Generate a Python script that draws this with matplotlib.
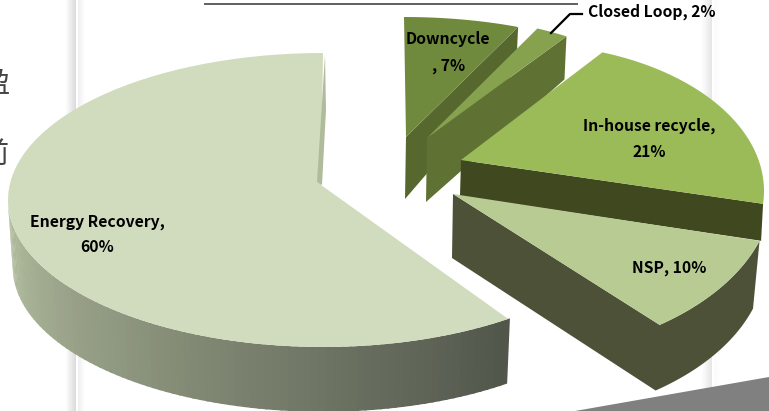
import numpy as np
import matplotlib
matplotlib.use("Agg")
import matplotlib.pyplot as plt
from matplotlib.colors import to_rgb

plt.rcParams['font.family'] = ['Noto Sans CJK KR', 'DejaVu Sans']

# Data, counter-clockwise from 12 o'clock
slices = ["Energy Recovery", "NSP", "In-house recycle", "Closed Loop", "Downcycle"]
shares = [60, 10, 21, 2, 7]

# Look of every slice
face_colors = ["#d1dbbd", "#b8cb92", "#9bbb59", "#86a24e", "#708a3d"]
wall_colors = ["#8f9a80", "#4c5138", "#404820", "#5f7233", "#56682e"]

# Exploded perspective layout per slice (image pixels):
# apex x, apex y, ellipse centre x, y, radius x, y, angle shift, depth at apex, depth at rim
layout = [
    (321, 185, 323, 200, 315, 147, 0, 67, 67),
    (453, 194, 498, 189, 275, 168, 0, 64, 69),
    (461, 160, 522, 191, 242, 147, 13, 36, 37),
    (427, 138, 425, 147, 264, 131, 0, 64, 43),
    (406, 137, 404, 122, 268, 105, 0, 62, 43),
]
draw_order = [4, 3, 2, 0, 1]


def arc(i, t0, t1, drop=0.0, shrink=1.0):
    cx, cy, rx, ry = layout[i][2:6]
    t = np.radians(np.linspace(t0, t1, 80))
    return cx + rx * shrink * np.cos(t), cy + drop - ry * shrink * np.sin(t)


fig = plt.figure(figsize=(7.69, 4.11), dpi=100)
ax = fig.add_axes([0, 0, 1, 1])

# Slide shadow stripes behind the chart
for x0, dark in ((76, 0.86), (712, 0.90)):
    ax.imshow([np.linspace(1.0, dark, 12)], extent=(x0 - 11, x0, 411, 0), cmap="gray",
              vmin=0, vmax=1, aspect="auto", zorder=0)
    ax.imshow([np.linspace(dark + 0.08, 1.0, 9)], extent=(x0 + 2, x0 + 10, 411, 0), cmap="gray",
              vmin=0, vmax=1, aspect="auto", zorder=0)
ax.set_xlim(0, 769)
ax.set_ylim(411, 0)
ax.axis("off")

# Angles come from the shares
edges = 90 + np.cumsum([0] + shares) * 3.6

for i in draw_order:
    t0 = edges[i] + layout[i][6]
    t1 = edges[i + 1] + layout[i][6]
    apex = np.array(layout[i][:2], dtype=float)
    depth_apex, depth_rim = layout[i][7:9]
    x, y = arc(i, t0, t1)
    z = draw_order.index(i) / 10

    # Walls first
    if i == 0:
        # outer wall with a left to right gradient
        start = 180.0
        steps = np.linspace(start, t1, 90)
        left, right = np.array(to_rgb("#b6c1a2")), np.array(to_rgb("#50554a"))
        for a, b in zip(steps[:-1], steps[1:]):
            xa, ya = arc(i, a, b + 0.4)
            xb, yb = arc(i, a, b + 0.4, depth_rim, 0.985)
            mix = (a - start) / (t1 - start)
            ax.fill(np.r_[xa, xb[::-1]], np.r_[ya, yb[::-1]],
                    color=left + (right - left) * mix, lw=0, zorder=2 + z)
    elif i == 1:
        xb, yb = arc(i, t0, t1, depth_rim, 0.975)
        ax.fill(np.r_[apex[0], x, xb[::-1], apex[0] - 1],
                np.r_[apex[1], y, yb[::-1], apex[1] + depth_apex],
                color=wall_colors[i], lw=0, zorder=2 + z)
    else:
        # radial wall at the start of the slice
        ax.fill([apex[0], x[0], x[0] - 2, apex[0] - 1],
                [apex[1], y[0], y[0] + depth_rim, apex[1] + depth_apex],
                color=wall_colors[i], lw=0, zorder=2 + z)

    ax.fill(np.r_[apex[0], x], np.r_[apex[1], y], color=face_colors[i], lw=0, zorder=4 + z)

# Thin inner wall next to the top radius of the big slice
ax.fill([325, 326, 322, 317], [55, 110, 185, 182], color="#b0bb9c", lw=0, zorder=5)

# Labels
label_font = dict(fontweight="bold", color="black", fontsize=11.3, ha="center", va="center", zorder=6)
ax.text(97, 222, f"{slices[0]},", **label_font)
ax.text(97, 247, f"{shares[0]}%", **label_font)
ax.text(669, 268, f"{slices[1]}, {shares[1]}%", **label_font)
ax.text(649, 126, f"{slices[2]},", **label_font)
ax.text(649, 152, f"{shares[2]}%", **label_font)
ax.text(448, 39, slices[4], **label_font)
ax.text(449, 66, f", {shares[4]}%", **label_font)
ax.text(652, 12, f"{slices[3]}, {shares[3]}%", **label_font)
ax.plot([551, 570, 582], [33, 14, 14], color="black", lw=1.6, zorder=6)

# Cut-off slide text and shapes around the chart
ax.plot([205, 577], [4, 4], color="#606060", lw=1.4, zorder=1)
ax.text(9, 83, "盈", color="#444444", fontsize=21, ha="right", va="center", zorder=1)
ax.text(9, 155, "前", color="#444444", fontsize=21, ha="right", va="center", zorder=1)
ax.fill([575, 769, 769, 575], [411, 377, 411, 411], color="#808080", lw=0, zorder=1)

plt.savefig("out.png", dpi=100)
